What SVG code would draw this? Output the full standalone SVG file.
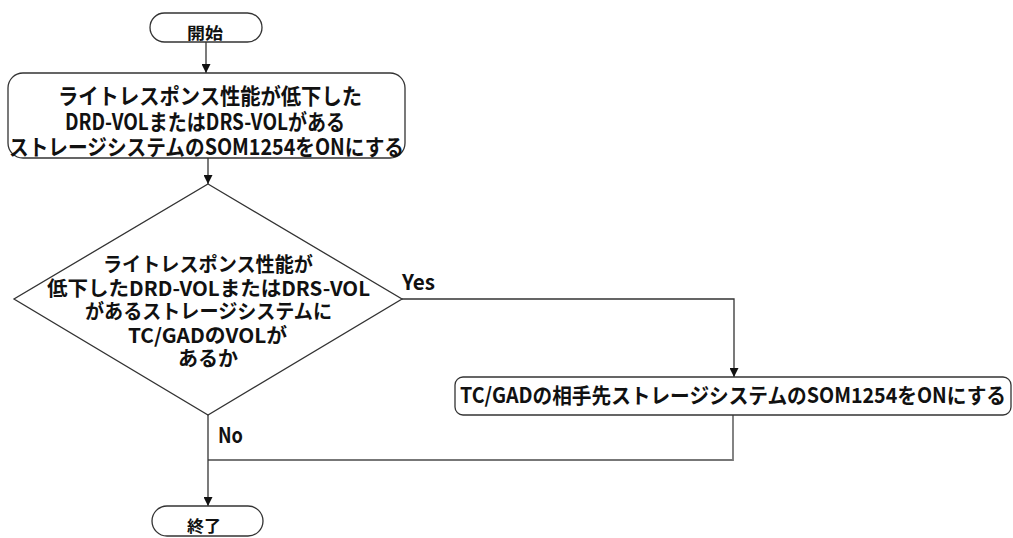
<svg xmlns="http://www.w3.org/2000/svg" width="1013" height="538" viewBox="0 0 1013 538">
<defs>
<marker id="arr" viewBox="0 0 10 10" refX="10" refY="5" markerWidth="9" markerHeight="9" markerUnits="userSpaceOnUse" orient="auto">
<path d="M0,0 L10,5 L0,10 Z" fill="#111"/>
</marker>
<style>
.shape{fill:#fff;stroke:#333;stroke-width:1.3}
.t{font-family:"Noto Sans CJK JP","Noto Sans",sans-serif;font-weight:bold;fill:#111;text-anchor:middle}
.lbl{font-family:"Noto Sans CJK JP","Noto Sans",sans-serif;font-weight:bold;fill:#111}
.c{fill:none;stroke:#333;stroke-width:1.3}
</style>
</defs>
<rect width="1013" height="538" fill="#fff"/>
<g id="connectors">
<path class="c" d="M206,42 V73" marker-end="url(#arr)"/>
<path class="c" d="M208,158 V184" marker-end="url(#arr)"/>
<path class="c" d="M402,299 H734 V377" marker-end="url(#arr)"/>
<path class="c" d="M733,415 V460 H208" style="stroke:#777;stroke-width:1.8"/>
<path class="c" d="M208,415 V506" marker-end="url(#arr)"/>
<text class="lbl" x="402" y="290" font-size="21" textLength="33" lengthAdjust="spacingAndGlyphs">Yes</text>
<text class="lbl" x="218" y="443" font-size="21" textLength="25" lengthAdjust="spacingAndGlyphs">No</text>
</g>
<g id="start">
<rect class="shape" x="150" y="13" width="112" height="29" rx="14.5"/>
<text class="t" x="205" y="39" font-size="16" textLength="36" lengthAdjust="spacingAndGlyphs">開始</text>
</g>
<g id="step1">
<rect class="shape" x="8" y="73" width="397" height="85" rx="15"/>
<text class="t" x="210" y="104" font-size="22" textLength="304" lengthAdjust="spacingAndGlyphs">ライトレスポンス性能が低下した</text>
<text class="t" x="205" y="129.5" font-size="22" textLength="280" lengthAdjust="spacingAndGlyphs">DRD-VOLまたはDRS-VOLがある</text>
<text class="t" x="206.5" y="155" font-size="22" textLength="395" lengthAdjust="spacingAndGlyphs">ストレージシステムのSOM1254をONにする</text>
</g>
<g id="decision">
<polygon class="shape" points="208,184 402,299 208,415 14,299"/>
<text class="t" x="208" y="272" font-size="20" textLength="210" lengthAdjust="spacingAndGlyphs">ライトレスポンス性能が</text>
<text class="t" x="208.5" y="296" font-size="20" textLength="323" lengthAdjust="spacingAndGlyphs">低下したDRD-VOLまたはDRS-VOL</text>
<text class="t" x="208.5" y="319" font-size="20" textLength="247" lengthAdjust="spacingAndGlyphs">があるストレージシステムに</text>
<text class="t" x="207.5" y="343" font-size="20" textLength="159" lengthAdjust="spacingAndGlyphs">TC/GADのVOLが</text>
<text class="t" x="208" y="366" font-size="20" textLength="60" lengthAdjust="spacingAndGlyphs">あるか</text>
</g>
<g id="step2">
<rect class="shape" x="455" y="377" width="556" height="38" rx="8"/>
<text class="t" x="733" y="403" font-size="21" textLength="546" lengthAdjust="spacingAndGlyphs">TC/GADの相手先ストレージシステムのSOM1254をONにする</text>
</g>
<g id="end">
<rect class="shape" x="152" y="506" width="111" height="30" rx="15"/>
<text class="t" x="204" y="532" font-size="16" textLength="34" lengthAdjust="spacingAndGlyphs">終了</text>
</g>
</svg>
